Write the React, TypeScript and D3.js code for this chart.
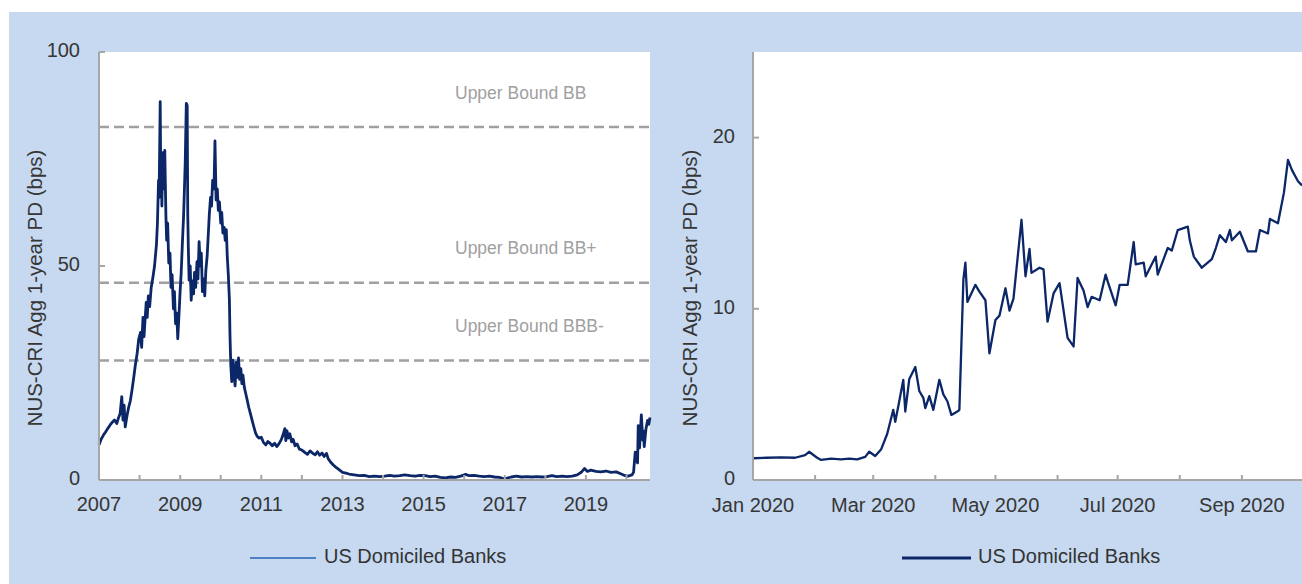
import React from "react";
import * as d3 from "d3";

// NUS-CRI aggregate 1-year PD (bps), US domiciled banks, 2007 - mid 2020
const longRun: [string, number][] = [
  ["2007-01-01", 8.2], ["2007-01-20", 9.5], ["2007-02-10", 10.5], ["2007-03-01", 11.2],
  ["2007-03-20", 12.0], ["2007-04-10", 12.8], ["2007-05-01", 13.5], ["2007-05-20", 14.0],
  ["2007-06-10", 13.2], ["2007-06-25", 14.5], ["2007-07-10", 15.5], ["2007-07-25", 19.5],
  ["2007-08-05", 14.0], ["2007-08-15", 17.5], ["2007-08-25", 12.4], ["2007-09-10", 15.0],
  ["2007-09-25", 17.0], ["2007-10-10", 18.5], ["2007-10-25", 21.0], ["2007-11-10", 24.0],
  ["2007-11-25", 27.0], ["2007-12-10", 29.5], ["2007-12-25", 33.0],
  ["2008-01-10", 34.5], ["2008-01-20", 31.0], ["2008-02-01", 38.0], ["2008-02-10", 33.5],
  ["2008-02-20", 37.5], ["2008-03-01", 41.5], ["2008-03-10", 38.0], ["2008-03-20", 43.0],
  ["2008-04-01", 40.5], ["2008-04-15", 45.0], ["2008-05-01", 47.5], ["2008-05-15", 50.0],
  ["2008-06-01", 55.0], ["2008-06-10", 60.0], ["2008-06-20", 70.0], ["2008-06-25", 66.0],
  ["2008-07-05", 88.4], ["2008-07-10", 70.0], ["2008-07-15", 76.0], ["2008-07-20", 64.0],
  ["2008-07-28", 76.5], ["2008-08-05", 68.0], ["2008-08-15", 77.0], ["2008-08-25", 62.0],
  ["2008-09-01", 56.0], ["2008-09-10", 60.0], ["2008-09-20", 50.7], ["2008-10-01", 53.0],
  ["2008-10-10", 45.0], ["2008-10-20", 48.0], ["2008-11-01", 40.0], ["2008-11-10", 44.0],
  ["2008-11-20", 36.5], ["2008-12-01", 39.0], ["2008-12-10", 33.0], ["2008-12-20", 38.0],
  ["2008-12-31", 44.0],
  ["2009-01-10", 48.5], ["2009-01-20", 55.0], ["2009-02-01", 62.0], ["2009-02-15", 74.0],
  ["2009-02-25", 88.0], ["2009-03-05", 87.5], ["2009-03-10", 62.0], ["2009-03-15", 54.5],
  ["2009-03-22", 46.7], ["2009-04-01", 50.0], ["2009-04-10", 42.0], ["2009-04-20", 46.5],
  ["2009-05-01", 43.5], ["2009-05-10", 48.5], ["2009-05-20", 45.0], ["2009-06-01", 51.0],
  ["2009-06-10", 47.0], ["2009-06-20", 55.7], ["2009-07-01", 50.0], ["2009-07-10", 53.0],
  ["2009-07-20", 44.0], ["2009-08-01", 47.0], ["2009-08-10", 43.0], ["2009-08-20", 49.0],
  ["2009-09-01", 52.5], ["2009-09-10", 57.0], ["2009-09-20", 62.0], ["2009-10-01", 66.0],
  ["2009-10-10", 64.0], ["2009-10-20", 70.0], ["2009-11-01", 68.0], ["2009-11-10", 79.2],
  ["2009-11-20", 65.4], ["2009-12-01", 68.0], ["2009-12-10", 63.0], ["2009-12-20", 65.0],
  ["2010-01-01", 60.0], ["2010-01-10", 62.5], ["2010-01-20", 57.7], ["2010-02-01", 59.0],
  ["2010-02-10", 56.0], ["2010-02-20", 58.5], ["2010-03-01", 52.0], ["2010-03-10", 48.0],
  ["2010-03-20", 42.0], ["2010-03-25", 34.0], ["2010-04-01", 27.0], ["2010-04-10", 23.0],
  ["2010-04-20", 28.0], ["2010-05-01", 24.5], ["2010-05-10", 22.0], ["2010-05-20", 27.5],
  ["2010-06-01", 24.0], ["2010-06-10", 28.5], ["2010-06-20", 23.5], ["2010-07-01", 26.0],
  ["2010-07-10", 22.5], ["2010-07-20", 24.5], ["2010-08-01", 21.7], ["2010-08-20", 19.5],
  ["2010-09-10", 17.0], ["2010-09-25", 15.5], ["2010-10-10", 14.0], ["2010-10-25", 12.5],
  ["2010-11-10", 11.0], ["2010-11-25", 10.2], ["2010-12-10", 9.8],
  ["2011-01-01", 10.0], ["2011-01-20", 8.8], ["2011-02-10", 8.2], ["2011-03-01", 9.0],
  ["2011-03-20", 8.6], ["2011-04-10", 8.0], ["2011-05-01", 8.6], ["2011-05-20", 7.8],
  ["2011-06-10", 8.5], ["2011-07-01", 9.5], ["2011-07-15", 10.5], ["2011-08-01", 12.0],
  ["2011-08-10", 9.2], ["2011-08-20", 11.5], ["2011-09-01", 9.8], ["2011-09-15", 10.8],
  ["2011-10-01", 8.9], ["2011-10-15", 9.5], ["2011-11-01", 8.0], ["2011-11-20", 8.4],
  ["2011-12-10", 7.2],
  ["2012-01-01", 7.0], ["2012-01-25", 6.5], ["2012-02-20", 6.0], ["2012-03-15", 6.8],
  ["2012-04-10", 6.2], ["2012-05-01", 5.9], ["2012-05-20", 6.6], ["2012-06-10", 5.8],
  ["2012-07-01", 6.3], ["2012-07-20", 5.5], ["2012-08-10", 6.2], ["2012-08-25", 5.0],
  ["2012-09-15", 4.2], ["2012-10-10", 3.5], ["2012-11-01", 3.0], ["2012-12-01", 2.4],
  ["2013-01-01", 1.8], ["2013-02-01", 1.6], ["2013-03-01", 1.4], ["2013-04-15", 1.2],
  ["2013-06-01", 1.0], ["2013-07-15", 1.1], ["2013-09-01", 0.8], ["2013-10-15", 0.9],
  ["2013-12-01", 0.8],
  ["2014-01-15", 0.9], ["2014-03-01", 1.1], ["2014-04-15", 0.9], ["2014-06-01", 1.0],
  ["2014-07-15", 1.2], ["2014-09-01", 1.0], ["2014-10-15", 0.9], ["2014-12-01", 1.1],
  ["2015-01-15", 1.0], ["2015-03-01", 0.8], ["2015-04-15", 0.9], ["2015-06-01", 0.6],
  ["2015-07-15", 0.5], ["2015-09-01", 0.7], ["2015-10-15", 0.6], ["2015-12-01", 0.9],
  ["2016-01-15", 1.3], ["2016-02-15", 1.0], ["2016-04-01", 1.1], ["2016-05-15", 0.9],
  ["2016-07-01", 0.8], ["2016-08-15", 0.9], ["2016-10-01", 0.7], ["2016-11-15", 0.6],
  ["2016-12-20", 0.3],
  ["2017-01-15", 0.4], ["2017-03-01", 0.7], ["2017-04-15", 0.9], ["2017-06-01", 0.7],
  ["2017-07-15", 0.8], ["2017-09-01", 0.7], ["2017-10-15", 0.8], ["2017-12-01", 0.7],
  ["2018-01-15", 0.8], ["2018-03-01", 1.0], ["2018-04-15", 0.8], ["2018-06-01", 0.9],
  ["2018-07-15", 0.8], ["2018-09-01", 0.9], ["2018-10-15", 1.2], ["2018-11-20", 1.8],
  ["2018-12-20", 2.7],
  ["2019-01-15", 2.0], ["2019-02-15", 2.3], ["2019-04-01", 2.0], ["2019-05-15", 1.9],
  ["2019-07-01", 2.1], ["2019-08-15", 1.8], ["2019-10-01", 1.9], ["2019-11-15", 1.4],
  ["2019-12-20", 1.0],
  ["2020-01-15", 0.9], ["2020-02-20", 1.2], ["2020-03-05", 1.8], ["2020-03-12", 4.0],
  ["2020-03-20", 6.5], ["2020-04-01", 4.5], ["2020-04-10", 4.0], ["2020-04-16", 12.7],
  ["2020-04-28", 7.5], ["2020-05-14", 15.2], ["2020-05-27", 9.3], ["2020-06-02", 11.5],
  ["2020-06-09", 7.8], ["2020-06-25", 12.0], ["2020-07-09", 13.9], ["2020-07-20", 13.0],
  ["2020-07-31", 14.6],
];

// same index, daily-ish, Jan - Sep 2020
const recent: [string, number][] = [
  ["2020-01-01", 1.27], ["2020-01-08", 1.3], ["2020-01-15", 1.32], ["2020-01-22", 1.3],
  ["2020-01-27", 1.45], ["2020-01-29", 1.65], ["2020-02-02", 1.3], ["2020-02-04", 1.17],
  ["2020-02-09", 1.25], ["2020-02-14", 1.2], ["2020-02-18", 1.25], ["2020-02-22", 1.2],
  ["2020-02-26", 1.35], ["2020-02-28", 1.65], ["2020-03-02", 1.4], ["2020-03-05", 1.8],
  ["2020-03-08", 2.7], ["2020-03-11", 4.1], ["2020-03-12", 3.4], ["2020-03-14", 4.6],
  ["2020-03-16", 5.85], ["2020-03-17", 4.0], ["2020-03-19", 5.9], ["2020-03-22", 6.6],
  ["2020-03-24", 5.2], ["2020-03-26", 4.8], ["2020-03-27", 4.2], ["2020-03-29", 4.9],
  ["2020-03-31", 4.1], ["2020-04-03", 5.85], ["2020-04-05", 5.0], ["2020-04-07", 4.6],
  ["2020-04-09", 3.8], ["2020-04-12", 4.0], ["2020-04-13", 4.1], ["2020-04-15", 11.7],
  ["2020-04-16", 12.7], ["2020-04-17", 10.4], ["2020-04-21", 11.4], ["2020-04-23", 11.0],
  ["2020-04-26", 10.5], ["2020-04-28", 7.4], ["2020-05-01", 9.35], ["2020-05-03", 9.6],
  ["2020-05-06", 11.2], ["2020-05-08", 9.9], ["2020-05-10", 10.6], ["2020-05-14", 15.2],
  ["2020-05-16", 11.9], ["2020-05-18", 13.5], ["2020-05-19", 12.1], ["2020-05-23", 12.4],
  ["2020-05-25", 12.3], ["2020-05-27", 9.25], ["2020-05-30", 10.9], ["2020-06-02", 11.5],
  ["2020-06-06", 8.3], ["2020-06-09", 7.8], ["2020-06-11", 11.8], ["2020-06-14", 11.05],
  ["2020-06-16", 10.1], ["2020-06-18", 10.7], ["2020-06-22", 10.5], ["2020-06-25", 12.0],
  ["2020-06-26", 11.6], ["2020-06-30", 10.2], ["2020-07-02", 11.4], ["2020-07-06", 11.4],
  ["2020-07-09", 13.9], ["2020-07-10", 12.6], ["2020-07-14", 12.7], ["2020-07-15", 11.9],
  ["2020-07-20", 13.05], ["2020-07-21", 12.0], ["2020-07-26", 13.55], ["2020-07-28", 13.4],
  ["2020-07-31", 14.6], ["2020-08-05", 14.8], ["2020-08-06", 14.0], ["2020-08-08", 13.05],
  ["2020-08-12", 12.4], ["2020-08-17", 12.9], ["2020-08-19", 13.55], ["2020-08-21", 14.3],
  ["2020-08-24", 13.9], ["2020-08-26", 14.6], ["2020-08-27", 14.0], ["2020-08-31", 14.5],
  ["2020-09-04", 13.35], ["2020-09-08", 13.35], ["2020-09-10", 14.6], ["2020-09-14", 14.4],
  ["2020-09-15", 15.25], ["2020-09-19", 15.0], ["2020-09-22", 16.8], ["2020-09-24", 18.7],
  ["2020-09-26", 18.1], ["2020-09-29", 17.45], ["2020-10-01", 17.2],
];

const boundValues = [82.5, 46.1, 27.9];
const boundLabels = ["Upper Bound BB", "Upper Bound BB+", "Upper Bound BBB-"];
const leftYTicks = [0, 50, 100];
const rightYTicks = [0, 10, 20];
const leftYearLabels = [2007, 2009, 2011, 2013, 2015, 2017, 2019];
const rightMonthLabels = ["Jan 2020", "Mar 2020", "May 2020", "Jul 2020", "Sep 2020"];
const yTitle = "NUS-CRI Agg 1-year PD (bps)";
const seriesName = "US Domiciled Banks";

const W = 1302;
const H = 584;
const FONT = "'Liberation Sans', Arial, sans-serif";
const BG = "#c6d9f0";
const NAVY = "#0c2768";
const AXIS = "#a6a6a6";
const TXT = "#363636";

const parse = d3.timeParse("%Y-%m-%d");

export default function App() {
  const top = 52;
  const bottom = 480;

  // left panel
  const xL = d3
    .scaleTime()
    .domain([parse("2007-01-01")!, parse("2020-07-31")!])
    .range([99, 650]);
  const yL = d3.scaleLinear().domain([0, 100]).range([bottom, top]);
  const lineL = d3
    .line<[string, number]>()
    .x((d) => xL(parse(d[0])!))
    .y((d) => yL(d[1]));

  // right panel
  const xR = d3
    .scaleTime()
    .domain([parse("2020-01-01")!, parse("2020-10-01")!])
    .range([753, 1302]);
  const yR = d3.scaleLinear().domain([0, 25]).range([bottom, top]);
  const lineR = d3
    .line<[string, number]>()
    .x((d) => xR(parse(d[0])!))
    .y((d) => yR(d[1]));

  const yearTicks = d3.timeYear.range(parse("2007-01-01")!, parse("2020-07-31")!);
  const monthTicks = d3.timeMonth.range(parse("2020-01-01")!, parse("2020-10-01")!);
  const labelMonths = monthTicks.filter((_, i) => i % 2 === 0);

  return (
    <svg
      width={W}
      height={H}
      style={{ position: "absolute", left: 0, top: 0, fontFamily: FONT }}
    >
      <rect x={0} y={0} width={W} height={H} fill="#ffffff" />
      <rect x={9} y={12} width={W - 9} height={H - 12} fill={BG} />

      {/* ---- left chart ---- */}
      <rect x={99} y={top} width={551} height={bottom - top} fill="#ffffff" />
      {boundValues.map((v, i) => (
        <g key={"b" + i}>
          <line
            x1={99}
            x2={650}
            y1={yL(v)}
            y2={yL(v)}
            stroke="#a0a0a0"
            strokeWidth={2.5}
            strokeDasharray="10,5"
          />
          <text
            x={455}
            y={yL(v) - 33}
            dominantBaseline="middle"
            fontSize={17.5}
            fill="#a0a0a0"
          >
            {boundLabels[i]}
          </text>
        </g>
      ))}
      <path
        d={lineL(longRun) || ""}
        fill="none"
        stroke={NAVY}
        strokeWidth={2.8}
        strokeLinejoin="round"
      />
      <line x1={99} x2={99} y1={top} y2={bottom} stroke={AXIS} strokeWidth={2} />
      <line x1={99} x2={650} y1={bottom} y2={bottom} stroke={AXIS} strokeWidth={2} />
      {leftYTicks.map((t) => (
        <g key={"ly" + t}>
          <line x1={99} x2={105} y1={yL(t)} y2={yL(t)} stroke={AXIS} strokeWidth={2} />
          <text
            x={80}
            y={yL(t)}
            textAnchor="end"
            dominantBaseline="middle"
            fontSize={20}
            fill={TXT}
          >
            {t}
          </text>
        </g>
      ))}
      {yearTicks.map((d, i) => (
        <line
          key={"lx" + i}
          x1={xL(d)}
          x2={xL(d)}
          y1={bottom}
          y2={bottom - 5}
          stroke={AXIS}
          strokeWidth={2}
        />
      ))}
      {leftYearLabels.map((yr) => (
        <text
          key={"ll" + yr}
          x={xL(new Date(yr, 0, 1))}
          y={506}
          textAnchor="middle"
          dominantBaseline="middle"
          fontSize={20}
          fill={TXT}
        >
          {yr}
        </text>
      ))}
      <text
        transform={`translate(42,288) rotate(-90)`}
        textAnchor="middle"
        fontSize={20.5}
        fill={TXT}
      >
        {yTitle}
      </text>
      <line x1={250} x2={316} y1={558} y2={558} stroke="#4f7fc4" strokeWidth={2} />
      <text x={324} y={558} dominantBaseline="middle" fontSize={20} fill="#333">
        {seriesName}
      </text>

      {/* ---- right chart ---- */}
      <rect x={753} y={top} width={W - 753} height={bottom - top} fill="#ffffff" />
      <path
        d={lineR(recent) || ""}
        fill="none"
        stroke={NAVY}
        strokeWidth={2.3}
        strokeLinejoin="round"
      />
      <line x1={753} x2={753} y1={top} y2={bottom} stroke={AXIS} strokeWidth={2} />
      <line x1={753} x2={W} y1={bottom} y2={bottom} stroke={AXIS} strokeWidth={2} />
      {rightYTicks.map((t) => (
        <g key={"ry" + t}>
          <line x1={753} x2={759} y1={yR(t)} y2={yR(t)} stroke={AXIS} strokeWidth={2} />
          <text
            x={735}
            y={yR(t)}
            textAnchor="end"
            dominantBaseline="middle"
            fontSize={20}
            fill={TXT}
          >
            {t}
          </text>
        </g>
      ))}
      {monthTicks.map((d, i) => (
        <line
          key={"rx" + i}
          x1={xR(d)}
          x2={xR(d)}
          y1={bottom}
          y2={bottom - 5}
          stroke={AXIS}
          strokeWidth={2}
        />
      ))}
      {labelMonths.map((d, i) => (
        <text
          key={"rl" + i}
          x={xR(d)}
          y={507}
          textAnchor="middle"
          dominantBaseline="middle"
          fontSize={20}
          fill={TXT}
        >
          {rightMonthLabels[i]}
        </text>
      ))}
      <text
        transform={`translate(697,288) rotate(-90)`}
        textAnchor="middle"
        fontSize={20.5}
        fill={TXT}
      >
        {yTitle}
      </text>
      <line x1={902} x2={971} y1={558} y2={558} stroke={NAVY} strokeWidth={3} />
      <text x={978} y={558} dominantBaseline="middle" fontSize={20} fill="#333">
        {seriesName}
      </text>
    </svg>
  );
}
